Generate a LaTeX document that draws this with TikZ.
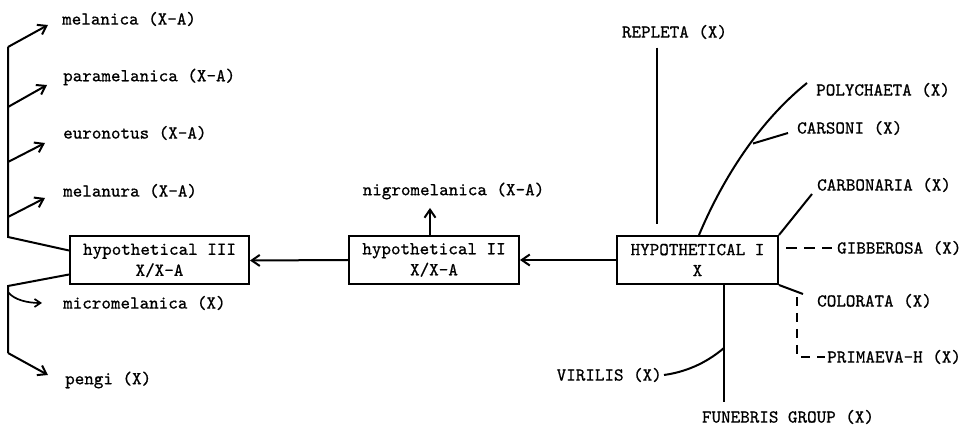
\documentclass[tikz,border=0pt]{standalone}
\usepackage{fontspec}
\usepackage{tikz}
\usetikzlibrary{arrows.meta,calc}
\newfontfamily\typew[Extension=.otf, FakeBold=0.7]{lmmono10-regular}

\begin{document}
\begin{tikzpicture}[
            x=1pt, y=-1pt,
            line/.style={line width=2pt},
            arr/.style={line width=2pt, -{Straight Barb[length=8pt, width=11pt, line width=2pt]}},
            smallarr/.style={line width=1.7pt, -{Straight Barb[length=6pt, width=8pt, line width=1.7pt]}},
            dashline/.style={line width=2pt, dash pattern=on 11pt off 7pt},
            hyp_box/.style={draw, line width=2pt, inner sep=0pt, align=center, minimum height=48pt},
            taxon/.style={inner sep=0pt, anchor=west},
            every node/.style={font=\fontsize{18.2}{21}\typew}
        ]
        \useasboundingbox (0,0) rectangle (967,427);

        % Hypothetical ancestors
        \node[hyp_box, minimum width=179pt] (hyp3) at (159.5, 260.5) {hypothetical III\\X/X-A};
        \node[hyp_box, minimum width=170pt] (hyp2) at (434, 260) {hypothetical II\\X/X-A};
        \node[hyp_box, minimum width=161pt] (hyp1) at (697.5, 260) {HYPOTHETICAL I\\X};

        \draw[arr] (hyp1.west) -- (hyp2.east);
        \draw[arr] (hyp2.west) -- (hyp3.east);

        % Left group (from hypothetical III)
        \node[taxon] (mel) at (62, 19) {melanica (X-A)};
        \node[taxon] (para) at (63, 77) {paramelanica (X-A)};
        \node[taxon] (euro) at (63, 133) {euronotus (X-A)};
        \node[taxon] (mnur) at (63, 191) {melanura (X-A)};
        \node[taxon] (micro) at (63, 303) {micromelanica (X)};
        \node[taxon] (pengi) at (65, 380) {pengi (X)};

        \coordinate (stemtop) at (8, 47);
        \coordinate (stem2) at (8, 107);
        \coordinate (stem3) at (8, 162);
        \coordinate (stem4) at (8, 217);
        \coordinate (stembot) at (8, 237);
        \coordinate (lowtop) at (8, 286);
        \coordinate (micfork) at (8, 292);
        \coordinate (lowbot) at (8, 353);

        \draw[line] (stemtop) -- (stembot) -- ([yshift=10pt]hyp3.west);
        \draw[line] ([yshift=-14pt]hyp3.west) -- (lowtop) -- (lowbot);

        \draw[arr] (stemtop) -- ([xshift=-14pt, yshift=-6pt]mel.west);
        \draw[arr] (stem2) -- ([xshift=-16pt, yshift=-8pt]para.west);
        \draw[arr] (stem3) -- ([xshift=-18pt, yshift=-10pt]euro.west);
        \draw[arr] (stem4) -- ([xshift=-18pt, yshift=-7pt]mnur.west);
        \draw[smallarr] (micfork) .. controls (14, 300) and (28, 303) .. ([xshift=-21pt]micro.west);
        \draw[arr] (lowbot) -- ([xshift=-17pt, yshift=5pt]pengi.west);

        % nigromelanica
        \node (nigro) at (453.5, 191) {nigromelanica (X-A)};
        \draw[arr, shorten >=5pt] ([xshift=-4pt]hyp2.north) -- ([xshift=-4pt]hyp2.north |- nigro.south);

        % Right group (around hypothetical I)
        \node (repl) at (674.5, 32) {REPLETA (X)};
        \node[taxon] (poly) at (816, 90) {POLYCHAETA (X)};
        \node[taxon] (cars) at (797, 128) {CARSONI (X)};
        \node[taxon] (carb) at (817, 185) {CARBONARIA (X)};
        \node[taxon] (gib) at (837, 248) {GIBBEROSA (X)};
        \node[taxon] (col) at (817, 301) {COLORATA (X)};
        \node[taxon] (prim) at (827, 357) {PRIMAEVA-H (X)};
        \node[anchor=east, inner sep=0pt] (vir) at (662, 375) {VIRILIS (X)};
        \node (fun) at (788, 417) {FUNEBRIS GROUP (X)};

        \coordinate (carsfork) at (753, 143.5);
        \coordinate (virfork) at (724, 348);
        \coordinate (primtop) at (797, 297);

        \draw[line] ([xshift=-17.5pt, yshift=-5pt]repl.south) -- ([xshift=-40.5pt, yshift=11pt]hyp1.north);
        \draw[line] ([xshift=1.5pt]hyp1.north) .. controls (720, 185) and (755, 125) .. ([xshift=-9pt, yshift=7pt]poly.west);
        \draw[line] (carsfork) -- ([xshift=-9pt, yshift=-5pt]cars.west);
        \draw[line] (hyp1.north east) -- ([xshift=-5pt, yshift=-9pt]carb.west);
        \draw[dashline] ([xshift=7pt, yshift=12pt]hyp1.east) -- ([xshift=-5pt]gib.west);
        \draw[line] (hyp1.south east) -- ([xshift=-14pt, yshift=7pt]col.west);
        \draw[dashline, dash pattern=on 9pt off 7pt] (primtop) |- ([xshift=-2pt]prim.west);
        \draw[line] ([xshift=26.5pt]hyp1.south) -- ([xshift=-64pt, yshift=4pt]fun.north);
        \draw[line] (virfork) .. controls (705, 364) and (685, 372) .. ([xshift=2pt]vir.east);

    \end{tikzpicture}
\end{document}
